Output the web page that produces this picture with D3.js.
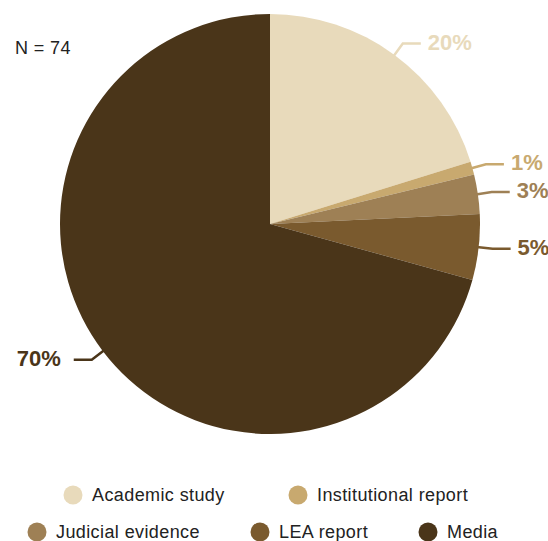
<!DOCTYPE html>
<html>
<head>
<meta charset="utf-8">
<script src="https://cdn.jsdelivr.net/npm/d3@7"></script>
<style>
  html, body { margin: 0; padding: 0; background: #fff; }
  svg { display: block; }
</style>
</head>
<body>
<svg id="chart" width="548" height="541"></svg>
<script>
// Share of cases by source type (percent, rounded)
const categories = ["Academic study", "Institutional report", "Judicial evidence", "LEA report", "Media"];
const shares = [20, 1, 3, 5, 70];
const percentLabels = ["20%", "1%", "3%", "5%", "70%"];
const colors = ["#e8dabb", "#c8a96f", "#9e8055", "#7a5a2e", "#4a3519"];
const totalLabel = "N = 74";

const svg = d3.select("#chart");
const cx = 270, cy = 224, radius = 210;
const textFont = "Liberation Sans, Arial, sans-serif";

const color = d3.scaleOrdinal().domain(categories).range(colors);

const pie = d3.pie().sort(null).value(d => d.value);
const data = categories.map((c, i) => ({ name: c, value: shares[i], label: percentLabels[i] }));
const arcs = pie(data);

const arc = d3.arc().innerRadius(0).outerRadius(radius);

const g = svg.append("g").attr("transform", `translate(${cx},${cy})`);

g.selectAll("path.slice")
  .data(arcs)
  .join("path")
  .attr("class", "slice")
  .attr("d", arc)
  .attr("fill", d => color(d.data.name));

// Leader lines and percentage labels
const polar = (r, a) => [r * Math.sin(a), -r * Math.cos(a)];
arcs.forEach(d => {
  const mid = (d.startAngle + d.endAngle) / 2;
  const right = Math.sin(mid) >= 0;
  const p0 = polar(radius - 2, mid);
  const p1 = polar(radius + 14, mid);
  const p2 = [p1[0] + (right ? 18 : -18), p1[1]];
  g.append("polyline")
    .attr("points", [p0, p1, p2].map(p => p.join(",")).join(" "))
    .attr("fill", "none")
    .attr("stroke", color(d.data.name))
    .attr("stroke-width", 2.5);
  g.append("text")
    .attr("x", p2[0] + (right ? 7 : -13))
    .attr("y", p2[1])
    .attr("dy", "0.28em")
    .attr("text-anchor", right ? "start" : "end")
    .attr("font-family", textFont)
    .attr("font-weight", "bold")
    .attr("font-size", 22)
    .attr("fill", color(d.data.name))
    .text(d.data.label);
});

svg.append("text")
  .attr("x", 15)
  .attr("y", 54)
  .attr("font-family", textFont)
  .attr("font-size", 18)
  .attr("letter-spacing", 0.4)
  .attr("fill", "#222")
  .text(totalLabel);

// Legend in two rows
const legendPos = [
  { cx: 73, cy: 495 },
  { cx: 298, cy: 495 },
  { cx: 37, cy: 532 },
  { cx: 260, cy: 532 },
  { cx: 428, cy: 532 }
];
const legend = svg.append("g");
categories.forEach((c, i) => {
  const p = legendPos[i];
  legend.append("circle")
    .attr("cx", p.cx).attr("cy", p.cy).attr("r", 9.5)
    .attr("fill", color(c));
  legend.append("text")
    .attr("x", p.cx + 19)
    .attr("y", p.cy)
    .attr("dy", "0.35em")
    .attr("font-family", textFont)
    .attr("font-size", 18)
    .attr("letter-spacing", 0.4)
    .attr("fill", "#222")
    .text(c);
});
</script>
</body>
</html>
